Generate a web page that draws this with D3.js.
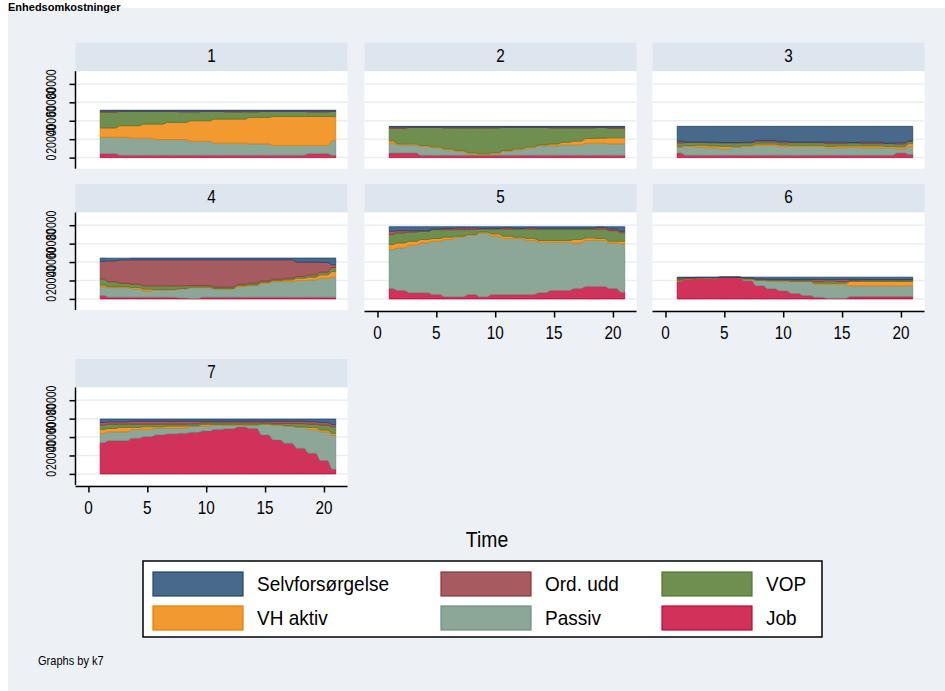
<!DOCTYPE html>
<html><head><meta charset="utf-8">
<script src="https://cdn.jsdelivr.net/npm/d3@7"></script>
<style>html,body{margin:0;padding:0;background:#fff;} svg{display:block;}</style>
</head><body><svg id="c" width="945" height="691"></svg>
<script>
// ---------------- DATA (values in thousands) ----------------
const unit = 1000;
const time = [1,2,3,4,5,6,7,8,9,10,11,12,13,14,15,16,17,18,19,20,21];
const panelLabels = ["1","2","3","4","5","6","7"];
const seriesNames = ["Job","Passiv","VH aktiv","VOP","Ord. udd","Selvforsørgelse"]; // bottom -> top
const legendOrder = ["Selvforsørgelse","Ord. udd","VOP","VH aktiv","Passiv","Job"];
const xTicks = [0,5,10,15,20];
const yTicks = [0,20000,40000,60000,80000];

const jobVals = [
  [4.3,4.3,2.5,2.5,2.5,2.5,2.5,2.5,2.5,2.5,2.5,2.5,2.5,2.5,2.5,2.5,2.5,2.5,4.3,4.3,2.5],
  [4.9,4.9,4.9,2.5,2.5,2.5,2.5,2.5,2.5,2.5,2.5,2.5,2.5,2.5,2.5,2.5,2.5,2.5,2.5,2.5,2.5],
  [4.9,2.5,2.5,2.5,2.5,2.5,2.5,2.5,2.5,2.5,2.5,2.5,2.5,2.5,2.5,2.5,2.5,2.5,2.5,4.9,3.5],
  [3.6,1.8,1.8,1.8,1.8,1.8,1.8,1.0,0.3,1.8,1.8,1.8,1.8,1.8,1.8,1.8,1.8,1.8,1.8,1.8,1.8],
  [11.3,9.1,6.6,6.6,4.7,2.2,2.2,4.7,2.2,4.7,4.7,4.7,4.7,6.6,9.1,9.1,11.3,13.5,13.5,11.3,7.3],
  [18.9,21.5,22.2,22.6,23.3,23.3,19.6,14.2,10.9,8.7,5.8,3.6,1.8,0.7,0.7,2.5,2.5,2.5,2.5,2.5,2.5],
  [33.9,36.1,36.1,38.6,40.4,42.2,43.3,44.0,45.1,46.5,48.3,49.0,50.8,49.4,42.2,36.8,33.2,27.8,22.4,14.5,5.1]
];
const passivVals = [
  [17.8,17.8,19.6,18.6,18.6,17.1,17.1,17.1,15.3,15.3,13.2,13.2,13.2,12.5,12.5,10.7,10.7,10.7,8.9,8.9,16.0],
  [10.8,9.0,9.0,9.6,8.2,6.1,4.3,1.8,0.5,1.8,4.3,6.1,8.2,10.3,10.3,11.4,11.4,13.2,13.2,12.5,12.5],
  [6.5,9.6,8.9,8.2,7.1,8.9,9.6,10.7,10.7,9.6,9.6,9.6,9.6,8.2,8.2,8.9,8.2,8.2,8.2,4.7,8.6],
  [9.8,10.5,10.5,9.1,6.9,8.0,8.0,9.9,12.0,10.5,9.1,9.1,11.6,12.7,15.2,17.0,17.0,18.1,18.8,20.6,21.7],
  [42.2,46.3,51.7,54.2,57.9,62.3,64.8,64.5,69.5,63.4,60.9,60.9,58.7,55.0,52.5,52.5,49.5,49.9,49.9,49.5,52.4],
  [0.7,0.3,0.3,0.2,0.1,0.1,1.9,5.8,8.7,10.9,13.1,15.3,14.2,15.3,15.3,11.7,11.7,11.7,11.7,11.7,11.7],
  [10.1,9.7,9.7,9.7,7.9,7.5,6.4,5.7,6.8,5.4,4.7,4.0,2.2,3.6,11.5,16.2,18.7,22.7,25.9,31.3,37.1]
];
const vhAktivVals = [
  [10.1,10.1,12.6,13.6,15.3,16.8,18.6,18.6,22.2,22.2,26.1,26.1,26.1,28.6,28.6,31.4,31.4,31.4,31.4,31.4,26.1],
  [2.5,1.0,1.0,1.0,1.0,1.0,1.0,1.0,1.0,1.0,1.0,1.0,1.0,1.0,2.0,2.8,4.0,5.0,5.4,6.5,6.5],
  [1.0,1.0,2.0,2.0,2.5,1.0,1.0,1.5,1.5,1.5,1.2,1.2,1.2,1.5,2.0,1.5,2.0,2.0,1.5,2.0,3.0],
  [1.6,1.0,1.0,1.5,1.8,0.5,0.5,0.4,0.5,0.5,0.4,0.4,1.1,0.7,1.0,1.1,1.8,2.5,2.9,3.7,6.2],
  [5.5,5.4,4.3,3.7,3.0,2.5,1.1,0.7,1.0,2.5,2.5,1.4,2.2,1.8,1.8,1.8,3.7,2.9,2.2,1.8,2.9],
  [0.2,0.1,0.1,0.1,0.0,0.0,0.1,0.2,0.2,0.2,0.2,0.3,1.1,1.1,1.1,4.7,4.7,4.7,4.7,4.7,4.7],
  [4.3,3.6,4.7,2.2,2.9,1.5,2.2,2.2,0.5,1.8,0.7,0.5,0.5,0.5,0.5,0.5,0.5,0.5,2.2,1.8,1.8]
];
const vopVals = [
  [17.2,17.2,15.4,15.4,13.7,13.7,11.9,11.4,9.6,10.1,8.3,7.8,7.8,6.0,6.5,5.5,5.5,5.5,5.0,5.0,5.5],
  [13.5,16.8,17.8,19.6,21.0,22.6,24.4,26.9,28.2,26.9,24.9,23.1,21.0,18.9,17.4,15.5,14.3,11.5,11.6,10.2,10.2],
  [3.5,3.3,3.0,3.5,3.8,3.5,3.0,2.5,2.5,2.5,3.0,3.0,3.0,3.0,2.5,3.0,2.5,2.5,3.0,3.0,2.5],
  [6.7,5.4,3.6,3.5,3.7,3.9,3.9,2.9,1.7,1.7,1.5,1.5,1.4,1.8,1.5,1.4,1.8,1.9,2.6,2.9,4.4],
  [10.9,10.9,10.1,8.9,9.6,8.2,7.1,5.3,3.2,5.3,7.8,8.9,10.3,12.5,12.5,12.5,11.4,9.6,10.3,11.5,9.1],
  [1.7,0.3,0.4,0.2,0.0,0.1,1.0,1.2,1.0,1.0,1.2,1.2,1.8,2.5,1.8,1.1,1.5,1.5,1.5,1.5,1.5],
  [4.7,4.7,3.6,3.6,2.9,2.9,2.2,2.2,2.0,1.8,1.8,2.0,2.0,2.0,1.3,1.3,2.4,3.6,3.6,5.4,7.2]
];
const ordUddVals = [
  [1.2,1.2,0.5,0.5,0.5,0.5,0.5,1.0,1.0,0.5,0.5,1.0,1.0,1.0,0.5,0.5,0.5,0.5,1.0,1.0,0.5],
  [1.5,1.5,0.5,0.5,0.5,1.0,1.0,1.0,1.0,1.0,0.5,0.5,0.5,0.5,1.0,1.0,1.0,1.0,0.5,1.5,1.5],
  [2.0,0.5,0.5,0.5,0.5,0.5,0.5,1.5,1.5,1.5,0.5,0.5,0.5,1.5,1.5,0.5,1.5,1.5,0.5,1.5,0.5],
  [19.0,22.6,25.5,26.6,28.3,28.3,28.3,28.3,28.0,28.0,29.7,29.7,26.6,25.5,23.0,21.2,20.1,15.7,13.9,10.6,3.1],
  [3.5,2.4,1.4,0.7,0.7,1.4,2.0,2.0,0.7,0.7,1.4,0.7,1.4,0.7,0.7,0.7,0.7,0.7,1.8,1.8,1.7],
  [1.5,1.0,0.3,0.2,0.1,0.0,0.3,0.3,0.5,0.5,0.8,0.7,2.2,1.5,2.2,1.1,0.7,0.7,0.7,0.7,0.7],
  [2.9,2.5,2.5,3.2,3.2,3.2,3.2,3.2,2.9,1.8,1.8,1.8,1.8,1.8,1.8,2.5,2.5,2.7,2.7,2.9,2.5]
];
const selvVals = [
  [0.8,0.8,0.8,0.8,0.8,0.8,0.8,0.8,0.8,0.8,0.8,0.8,0.8,0.8,0.8,0.8,0.8,0.8,0.8,0.8,0.8],
  [0.7,0.7,0.7,0.7,0.7,0.7,0.7,0.7,0.7,0.7,0.7,0.7,0.7,0.7,0.7,0.7,0.7,0.7,0.7,0.7,0.7],
  [16.0,17.0,17.0,17.2,17.5,17.5,17.3,15.2,15.2,16.3,17.1,17.1,17.1,17.2,17.2,17.5,17.2,17.2,18.2,17.8,15.8],
  [3.6,2.9,1.8,1.8,1.8,1.8,1.8,1.8,1.8,1.8,1.8,1.8,1.8,1.8,1.8,1.8,1.8,4.3,4.3,4.7,7.1],
  [4.9,4.2,4.2,4.2,2.4,1.7,1.1,1.1,1.7,1.7,1.0,1.7,1.0,1.7,1.7,1.7,1.7,1.7,0.6,2.4,4.9],
  [0.6,0.4,0.3,0.3,0.1,0.1,0.7,1.9,2.3,2.3,2.5,2.5,2.5,2.5,2.5,2.5,2.5,2.5,2.5,2.5,2.5],
  [3.6,2.9,2.9,2.2,2.2,2.2,2.2,2.2,2.2,2.2,2.2,2.2,2.2,2.2,2.2,2.2,2.2,2.2,2.7,3.6,5.8]
];

const fills   = {"Job":"#d0325a","Passiv":"#8ca697","VH aktiv":"#f29a30","VOP":"#6f8f51","Ord. udd":"#a65b61","Selvforsørgelse":"#49698a"};
const strokes = {"Job":"#c10534","Passiv":"#6e8e84","VH aktiv":"#e37e00","VOP":"#55752f","Ord. udd":"#90353b","Selvforsørgelse":"#1a476f"};

// ---------------- LAYOUT ----------------
const W = 945, H = 691;
const FONT = "'Liberation Sans', Arial, Helvetica, sans-serif";
const colX = [75.5, 364.5, 652.5];
const rowY = [42.7, 184, 359];       // strip tops
const stripH = 28.5, plotH = 97.5, plotW = 272;

const svg = d3.select("#c").attr("font-family", FONT);
svg.append("rect").attr("width", W).attr("height", H).attr("fill", "#ffffff");
svg.append("rect").attr("x", 8).attr("y", 8).attr("width", W - 8).attr("height", H - 8).attr("fill", "#edf1f6");

function label(sel, x, y, s, o) {
  const tr = `translate(${x},${y})` + (o.rot ? ` rotate(${o.rot})` : "") + ` scale(${o.sx || 1},1)`;
  sel.append("g").attr("transform", tr)
    .append("text").attr("text-anchor", o.anchor || "start")
    .attr("font-size", o.size).attr("font-weight", o.weight || "normal")
    .attr("fill", o.fill || "#000").text(s);
}

// custom curve: flat around each observation with short sloped transitions
function curveStepSlope(context) {
  return {
    _line: NaN, _point: 0, _x: 0, _y: 0,
    areaStart() { this._line = 0; },
    areaEnd() { this._line = NaN; },
    lineStart() { this._point = 0; },
    lineEnd() {
      if (this._line || (this._line !== 0 && this._point === 1)) context.closePath();
      this._line = 1 - this._line;
    },
    point(x, y) {
      x = +x; y = +y;
      if (this._point === 0) {
        this._point = 1;
        this._line ? context.lineTo(x, y) : context.moveTo(x, y);
      } else {
        const d = x - this._x;
        context.lineTo(this._x + 0.35 * d, this._y);
        context.lineTo(x - 0.35 * d, y);
        context.lineTo(x, y);
      }
      this._x = x; this._y = y;
    }
  };
}

// title
label(svg, 8, 11, "Enhedsomkostninger", {size: 11, weight: "bold"});

const allVals = {"Job": jobVals, "Passiv": passivVals, "VH aktiv": vhAktivVals, "VOP": vopVals, "Ord. udd": ordUddVals, "Selvforsørgelse": selvVals};

panelLabels.forEach((lab, p) => {
  const c = p % 3, r = Math.floor(p / 3);
  const x0 = colX[c], sTop = rowY[r], pTop = sTop + stripH, pBot = pTop + plotH;
  const g = svg.append("g");

  const x = d3.scaleLinear().domain([-1.1, 22.0]).range([x0, x0 + plotW]);
  const y = d3.scaleLinear().domain([-12050, 93790]).range([pBot, pTop]);

  // strip
  g.append("rect").attr("x", x0).attr("y", sTop).attr("width", plotW).attr("height", stripH).attr("fill", "#dde5ee");
  label(g, x0 + plotW / 2, sTop + 19, lab, {size: 18, anchor: "middle", sx: 0.85});

  // plot region
  g.append("rect").attr("x", x0).attr("y", pTop).attr("width", plotW).attr("height", plotH).attr("fill", "#ffffff");
  g.selectAll("line.grid").data(yTicks).join("line").attr("class", "grid")
    .attr("x1", x0).attr("x2", x0 + plotW).attr("y1", d => y(d)).attr("y2", d => y(d))
    .attr("stroke", "#e8eef3").attr("stroke-width", 1.5);

  // stacked areas
  const rows = time.map((t, i) => {
    const o = {t};
    seriesNames.forEach(s => { o[s] = allVals[s][p][i] * unit; });
    return o;
  });
  const stacked = d3.stack().keys(seriesNames)(rows);
  const area = d3.area().x(d => x(d.data.t)).y0(d => y(d[0])).y1(d => y(d[1])).curve(curveStepSlope);
  g.selectAll("path.area").data(stacked).join("path").attr("class", "area")
    .attr("d", area).attr("fill", d => fills[d.key]).attr("stroke", d => strokes[d.key])
    .attr("stroke-width", 0.8).attr("stroke-linejoin", "round");

  // y axis for first column
  if (c === 0) {
    const ax = g.append("g").attr("transform", `translate(${x0},0)`)
      .call(d3.axisLeft(y).tickValues(yTicks).tickSize(6).tickFormat(""));
    ax.select(".domain").attr("d", `M0,${pTop}V${pBot}`).attr("stroke", "#000").attr("stroke-width", 1.5);
    ax.selectAll(".tick line").attr("stroke", "#000").attr("stroke-width", 1.5);
    yTicks.forEach(v => label(g, 56, y(v), String(v), {size: 15, anchor: "middle", rot: -90, sx: 0.7}));
  }
  // x axis for bottom panels (4 has a panel below it)
  if (p >= 4) {
    const ax = g.append("g").attr("transform", `translate(0,${pBot + 1.5})`)
      .call(d3.axisBottom(x).tickValues(xTicks).tickSize(6).tickFormat(""));
    ax.select(".domain").attr("d", `M${x0},0H${x0 + plotW}`).attr("stroke", "#000").attr("stroke-width", 1.5);
    ax.selectAll(".tick line").attr("stroke", "#000").attr("stroke-width", 1.5);
    xTicks.forEach(v => label(g, x(v), pBot + 29, String(v), {size: 18, anchor: "middle", sx: 0.85}));
  }
});

// axis title
label(svg, 487, 547, "Time", {size: 22, anchor: "middle", sx: 0.88});

// legend
const lg = svg.append("g");
lg.append("rect").attr("x", 143).attr("y", 561).attr("width", 679).attr("height", 76)
  .attr("fill", "#ffffff").attr("stroke", "#000").attr("stroke-width", 1.5);
const legColX = [153, 441, 662];
const legRowY = [572, 606];
legendOrder.forEach((s, i) => {
  const cx = legColX[i % 3], ry = legRowY[Math.floor(i / 3)];
  lg.append("rect").attr("x", cx).attr("y", ry).attr("width", 90).attr("height", 24)
    .attr("fill", fills[s]).attr("stroke", strokes[s]).attr("stroke-width", 1.2);
  label(lg, cx + 104, ry + 19, s, {size: 20, sx: 0.95});
});

// note
label(svg, 38, 665, "Graphs by k7", {size: 13, sx: 0.85});
</script>
</body></html>
